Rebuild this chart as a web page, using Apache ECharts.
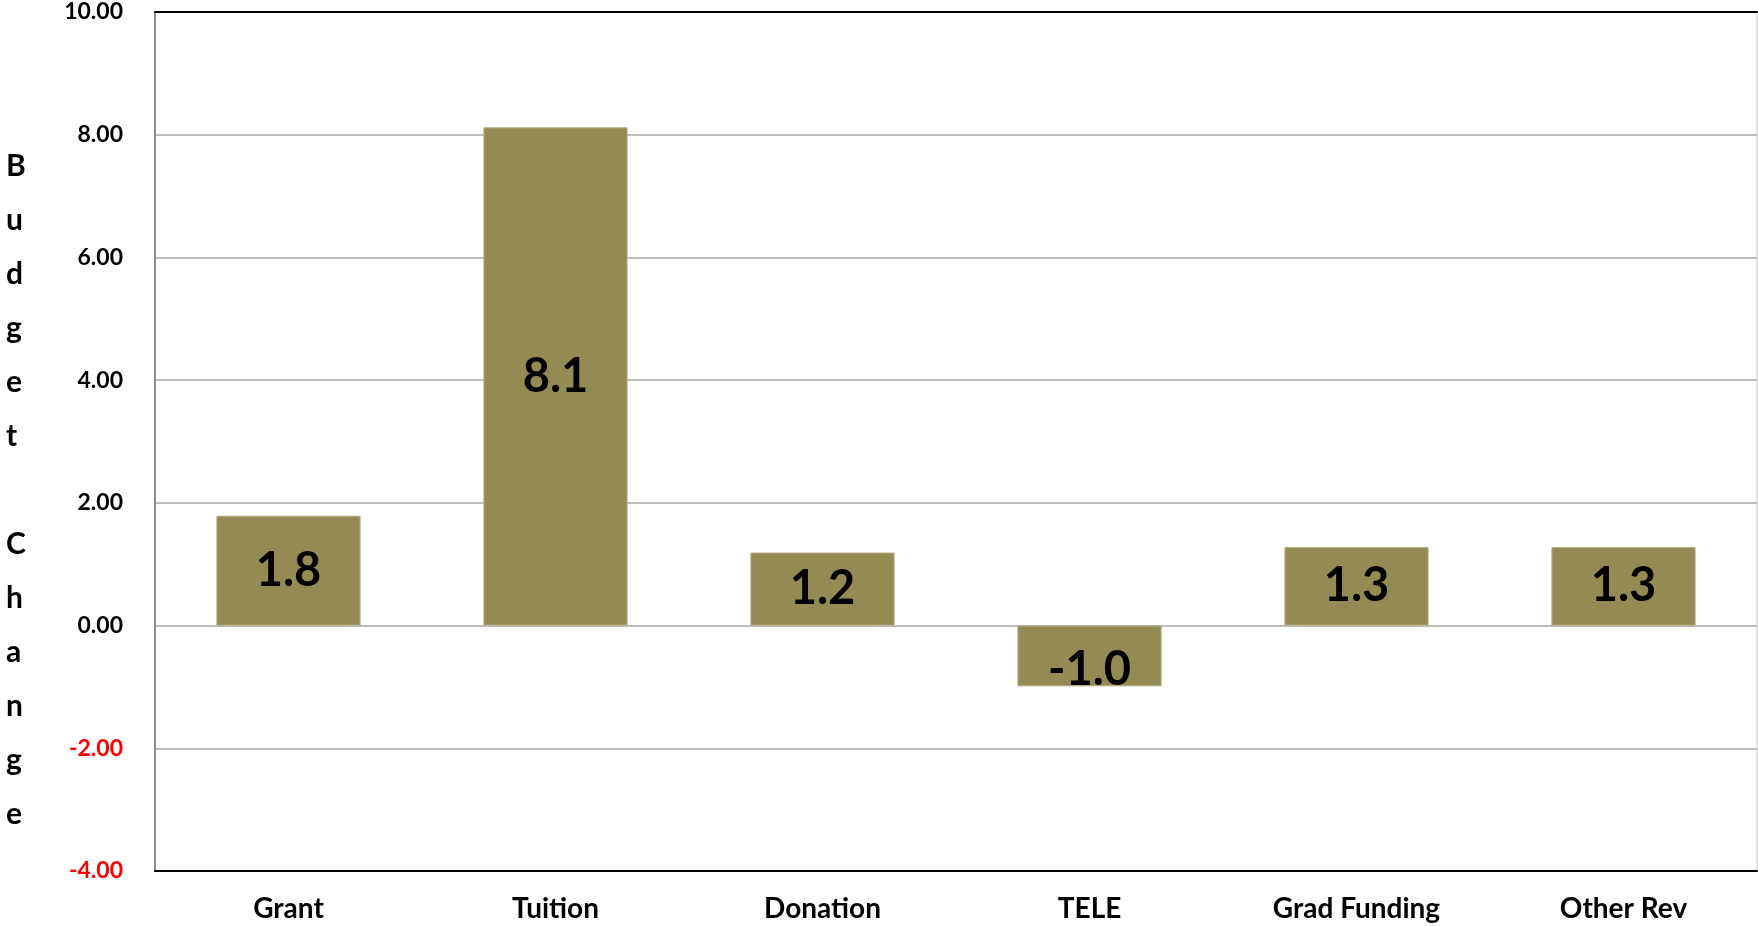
<!DOCTYPE html>
<html>
<head>
<meta charset="utf-8">
<script src="https://cdn.jsdelivr.net/npm/echarts@6/dist/echarts.min.js"></script>
<style>
  html, body { margin: 0; padding: 0; background: #fff; }
  #chart { width: 1758px; height: 926px; }
</style>
</head>
<body>
<div id="chart"></div>
<script>
  // categories and values
  const categories = ['Grant', 'Tuition', 'Donation', 'TELE', 'Grad Funding', 'Other Rev'];
  const budgetChange = [1.79, 8.12, 1.19, -0.99, 1.28, 1.28];
  const yTicks = [-4, -2, 0, 2, 4, 6, 8, 10];

  const font = 'Lato, "Open Sans", sans-serif';
  const chart = echarts.init(document.getElementById('chart'));

  const option = {
    animation: false,
    backgroundColor: '#fff',
    grid: {
      left: 155,
      right: 1,
      top: 12,
      bottom: 55,
      show: true,
      borderColor: '#c8c8c8',
      borderWidth: 1,
    },
    graphic: [
      {
        type: 'text',
        left: 6,
        top: 139,
        style: {
          text: 'B\nu\nd\ng\ne\nt\n\nC\nh\na\nn\ng\ne',
          font: 'bold 30px ' + font,
          fill: '#000',
          align: 'center',
          lineHeight: 54,
        },
      },
    ],
    xAxis: [
      {
        type: 'category',
        data: categories,
        position: 'bottom',
        axisLine: { onZero: false, lineStyle: { color: '#000', width: 2 } },
        axisTick: { show: false },
        axisLabel: {
          color: '#000',
          fontFamily: font,
          fontWeight: 'bold',
          fontSize: 28,
          margin: 24,
        },
      },
      {
        type: 'category',
        data: categories,
        position: 'top',
        axisLine: { onZero: false, lineStyle: { color: '#000', width: 2 } },
        axisTick: { show: false },
        axisLabel: { show: false },
      },
    ],
    yAxis: {
      type: 'value',
      min: yTicks[0],
      max: yTicks[yTicks.length - 1],
      interval: 2,
      axisLine: { show: true, lineStyle: { color: '#8c8c8c', width: 2 } },
      axisTick: { show: false },
      splitLine: { lineStyle: { color: '#a6a6a6', width: 1.5 } },
      axisLabel: {
        fontFamily: font,
        fontWeight: 'bold',
        fontSize: 23,
        margin: 32,
        formatter: (v) => v.toFixed(2),
        color: (v) => (Number(v) < 0 ? '#ff0000' : '#000'),
      },
    },
    series: [
      {
        type: 'bar',
        xAxisIndex: 0,
        barWidth: '54%',
        data: budgetChange.map((v) =>
          v < 0 ? { value: v, label: { offset: [0, 14] } } : v
        ),
        itemStyle: { color: '#948A54', borderColor: '#b3ab80', borderWidth: 1 },
        label: {
          show: true,
          position: 'inside',
          color: '#000',
          fontFamily: font,
          fontWeight: 'bold',
          fontSize: 47,
          formatter: (p) => p.value.toFixed(1),
        },
      },
    ],
  };

  chart.setOption(option);
  window.addEventListener('resize', () => chart.resize());
</script>
</body>
</html>
